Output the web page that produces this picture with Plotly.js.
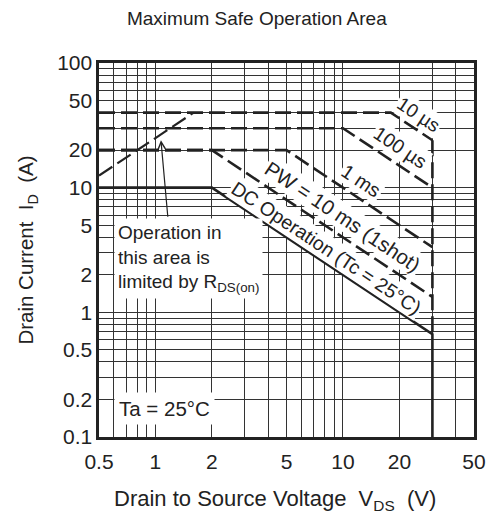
<!DOCTYPE html>
<html>
<head>
<meta charset="utf-8">
<script src="https://cdn.plot.ly/plotly-3.0.1.min.js"></script>
<style>html,body{margin:0;padding:0;background:#fff;}#chart{width:494px;height:525px;}</style>
</head>
<body>
<div id="chart"></div>
<script>
// ---- data ----
const xLabels = [0.5, 1, 2, 5, 10, 20, 50];
const yLabels = [0.1, 0.2, 0.5, 1, 2, 5, 10, 20, 50, 100];
const xGrid = [0.6, 0.7, 0.8, 0.9, 1, 2, 3, 4, 5, 6, 7, 8, 9, 10, 20, 30, 40];
const yGrid = [0.2, 0.3, 0.4, 0.5, 0.6, 0.7, 0.8, 0.9, 1, 2, 3, 4, 5, 6, 7, 8, 9, 10, 20, 30, 40, 50, 60, 70, 80, 90];

// R_DS(on) limit
const rdsV = [0.5, 1.6];
const rdsI = [12.5, 40];
// 10 us
const us10V = [0.5, 18, 30];
const us10I = [40, 40, 24];
// 100 us
const us100V = [0.5, 10, 30];
const us100I = [30, 30, 10];
// 1 ms
const ms1V = [0.5, 5, 30];
const ms1I = [20, 20, 3.33];
// 10 ms (1 shot)
const ms10V = [0.5, 2, 30];
const ms10I = [20, 20, 1.33];
// VDSS limit (pulsed, dashed part)
const vdssV = [30, 30];
const vdssI = [24, 0.667];
// DC operation
const dcV = [0.5, 2, 30, 30];
const dcI = [10, 10, 0.667, 0.1];

function ticks(grid, labels, lo, hi) {
  const all = Array.from(new Set(grid.concat(labels))).filter(v => v > lo && v < hi).sort((a, b) => a - b);
  return { vals: all, text: all.map(v => labels.includes(v) ? String(v) : '') };
}
const xt = ticks(xGrid, xLabels, 0.5, 50);
const yt = ticks(yGrid, yLabels, 0.1, 100);
xt.vals = [0.5].concat(xt.vals, [50]); xt.text = ['0.5'].concat(xt.text, ['50']);
yt.vals = [0.1].concat(yt.vals, [100]); yt.text = ['0.1'].concat(yt.text, ['100']);

const ink = '#222';
const dash = '16px,6px';
function line(x, y, d, w) {
  return { x: x, y: y, type: 'scatter', mode: 'lines', hoverinfo: 'skip', showlegend: false,
           line: { color: ink, width: w || 2.6, dash: d } };
}
const data = [
  line(rdsV, rdsI, dash, 2.2),
  line(us10V, us10I, dash),
  line(us100V, us100I, dash),
  line(ms1V, ms1I, dash),
  line(ms10V, ms10I, dash),
  line(vdssV, vdssI, dash),
  line(dcV, dcI, 'solid')
];

const font = 'Liberation Sans, Arial, Helvetica, sans-serif';
const ang = 33.6;
function lab(text, x, y, size, extra) {
  return Object.assign({ text: text, x: Math.log10(x), y: Math.log10(y), xref: 'x', yref: 'y',
    showarrow: false, textangle: ang, bgcolor: '#fff', borderpad: 1,
    font: { family: font, size: size || 19.5, color: ink } }, extra || {});
}
const annotations = [
  lab('10 µs', 25.2, 38.5, 19),
  lab('100 µs', 20.2, 21.2, 19.5),
  lab('1 ms', 12.6, 11.3, 19.5),
  lab('PW = 10 ms (1shot)', 10.0, 5.9, 20.5),
  lab('DC Operation (Tc = 25°C)', 8.2, 3.3, 19.5),
  lab('Operation in<br>this area is<br>limited by R<sub>DS(on)</sub>', 0.60, 2.72, 19,
      { textangle: 0, xanchor: 'left', align: 'left', borderpad: 3 }),
  lab('Ta = 25°C', 0.60, 0.17, 20.5, { textangle: 0, xanchor: 'left', borderpad: 4 }),
  { text: '', x: Math.log10(1.07), y: Math.log10(24), xref: 'x', yref: 'y', showarrow: true,
    ax: 7, ay: 78, arrowhead: 5, arrowsize: 1.2, arrowwidth: 1.2, arrowcolor: ink },
  // x-axis title (placed as in the reference, slightly left of the plot centre)
  { text: 'Drain to Source Voltage  V<sub>DS</sub>  (V)', xref: 'paper', yref: 'paper',
    x: 0.469, y: -0.168, xanchor: 'center', yanchor: 'middle', showarrow: false,
    font: { family: font, size: 22, color: ink } }
];

const axisCommon = {
  type: 'log', showgrid: true, gridcolor: '#333', gridwidth: 1, zeroline: false,
  showline: true, linecolor: ink, linewidth: 2.6, mirror: true, ticks: '',
  tickfont: { family: font, size: 21, color: ink }, tickmode: 'array', fixedrange: true
};
const layout = {
  width: 494, height: 525,
  margin: { l: 99, r: 20, t: 63, b: 88 },
  paper_bgcolor: '#fff', plot_bgcolor: '#fff',
  title: { text: 'Maximum Safe Operation Area', font: { family: font, size: 19, color: ink },
           x: 0.52, xanchor: 'center', y: 0.965, yanchor: 'middle' },
  xaxis: Object.assign({}, axisCommon, {
    range: [Math.log10(0.5), Math.log10(50)], tickvals: xt.vals, ticktext: xt.text,
    ticklabelstandoff: 4
  }),
  yaxis: Object.assign({}, axisCommon, {
    range: [Math.log10(0.1), Math.log10(100)], tickvals: yt.vals, ticktext: yt.text,
    title: { text: 'Drain Current  I<sub>D</sub>  (A)', font: { family: font, size: 20.5, color: ink }, standoff: 18 }
  }),
  annotations: annotations
};
Plotly.newPlot('chart', data, layout, { staticPlot: true, displayModeBar: false });
</script>
</body>
</html>
